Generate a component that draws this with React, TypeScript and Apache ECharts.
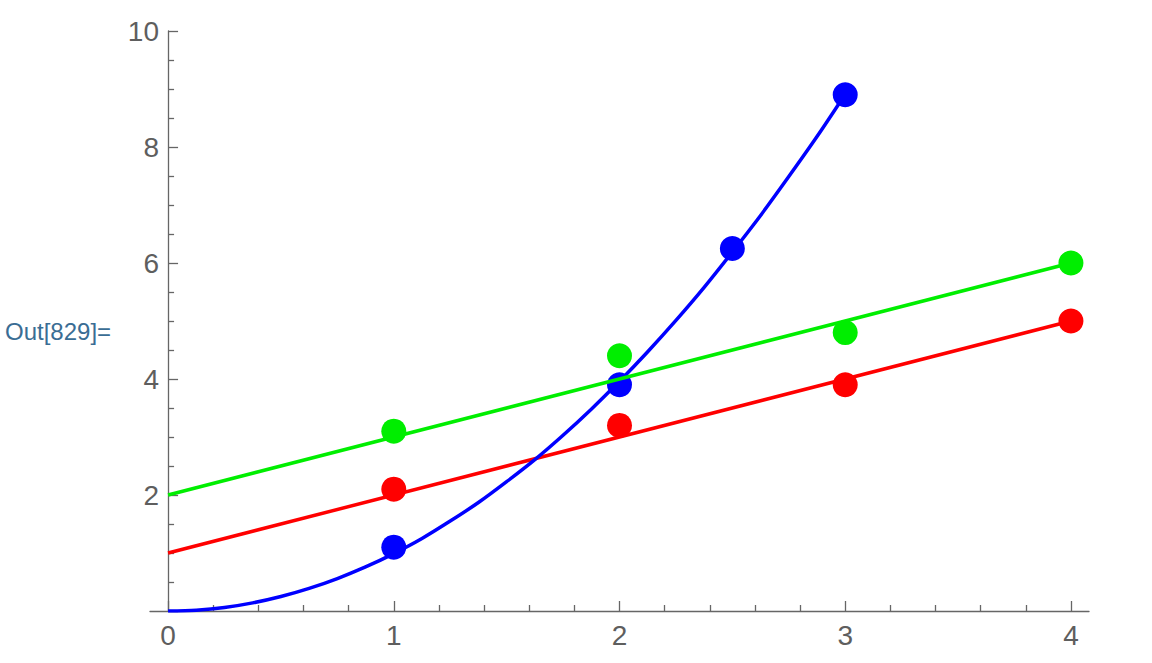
import React, { useEffect, useRef } from "react";
import * as echarts from "echarts";

const xTickValues = [0, 1, 2, 3, 4];
const xMinorTickValues = [
  0.2, 0.4, 0.6, 0.8, 1.2, 1.4, 1.6, 1.8, 2.2, 2.4, 2.6, 2.8, 3.2, 3.4, 3.6, 3.8,
];

const redPoints = [
  [1, 2.1],
  [2, 3.2],
  [3, 3.9],
  [4, 5.0],
];
const greenPoints = [
  [1, 3.1],
  [2, 4.4],
  [3, 4.8],
  [4, 6.0],
];
const bluePoints = [
  [1, 1.1],
  [2, 3.9],
  [2.5, 6.25],
  [3, 8.9],
];

const redLine = [
  [0, 1],
  [4, 5],
];
const greenLine = [
  [0, 2],
  [4, 6],
];
const blueCurve = [
  [0, 0],
  [0.125, 0.015],
  [0.25, 0.06],
  [0.375, 0.14],
  [0.5, 0.25],
  [0.625, 0.39],
  [0.75, 0.56],
  [0.875, 0.76],
  [1, 0.99],
  [1.125, 1.25],
  [1.25, 1.55],
  [1.375, 1.87],
  [1.5, 2.23],
  [1.625, 2.61],
  [1.75, 3.03],
  [1.875, 3.48],
  [2, 3.96],
  [2.125, 4.47],
  [2.25, 5.01],
  [2.375, 5.58],
  [2.5, 6.19],
  [2.625, 6.82],
  [2.75, 7.49],
  [2.875, 8.18],
  [3, 8.91],
];

const outLabel = "Out[829]=";

const FONT = "'Liberation Sans', Arial, sans-serif";
const AXIS_COLOR = "#666666";
const LABEL_COLOR = "#5e5e5e";
const RED = "#ff0000";
const GREEN = "#00ee00";
const BLUE = "#0000ff";

export default function App() {
  const ref = useRef<HTMLDivElement>(null);

  useEffect(() => {
    if (!ref.current) return;
    const chart = echarts.init(ref.current, null, { renderer: "svg" });

    const axisLineStyle = { color: AXIS_COLOR, width: 1.3 };

    chart.setOption({
      animation: false,
      backgroundColor: "#ffffff",
      grid: {
        left: 150,
        right: 63,
        top: 31,
        bottom: 52,
        containLabel: false,
        outerBoundsMode: "none",
      },
      graphic: [
        {
          type: "text",
          left: 5,
          top: 319,
          style: {
            text: outLabel,
            fill: "#3a6d94",
            font: `24px ${FONT}`,
          },
        },
      ],
      xAxis: [
        {
          type: "value",
          min: -0.08,
          max: 4.08,
          position: "bottom",
          axisLine: { show: true, onZero: false, lineStyle: axisLineStyle },
          axisTick: {
            show: true,
            inside: true,
            length: 10,
            customValues: xTickValues,
            lineStyle: axisLineStyle,
          },
          axisLabel: {
            show: true,
            customValues: xTickValues,
            margin: 10,
            fontSize: 28,
            fontFamily: FONT,
            color: LABEL_COLOR,
          },
          splitLine: { show: false },
        },
        {
          type: "value",
          min: -0.08,
          max: 4.08,
          position: "bottom",
          axisLine: { show: false, onZero: false },
          axisTick: {
            show: true,
            inside: true,
            length: 6,
            customValues: xMinorTickValues,
            lineStyle: axisLineStyle,
          },
          axisLabel: { show: false },
          splitLine: { show: false },
        },
      ],
      yAxis: {
        type: "value",
        min: 0,
        max: 10,
        interval: 2,
        axisLine: { show: true, onZero: true, lineStyle: axisLineStyle },
        axisTick: { show: true, inside: true, length: 10, lineStyle: axisLineStyle },
        minorTick: {
          show: true,
          splitNumber: 4,
          length: 6,
          lineStyle: axisLineStyle,
        },
        axisLabel: {
          showMinLabel: false,
          margin: -9,
          fontSize: 28,
          fontFamily: FONT,
          color: LABEL_COLOR,
        },
        splitLine: { show: false },
        minorSplitLine: { show: false },
      },
      series: [
        {
          type: "line",
          data: redLine,
          showSymbol: false,
          symbol: "none",
          lineStyle: { color: RED, width: 3.5 },
          itemStyle: { color: RED },
        },
        {
          type: "scatter",
          data: redPoints,
          symbolSize: 25,
          itemStyle: { color: RED, opacity: 1 },
        },
        {
          type: "line",
          data: blueCurve,
          smooth: 0.3,
          showSymbol: false,
          symbol: "none",
          lineStyle: { color: BLUE, width: 3.5 },
          itemStyle: { color: BLUE },
        },
        {
          type: "scatter",
          data: bluePoints,
          symbolSize: 25,
          itemStyle: { color: BLUE, opacity: 1 },
        },
        {
          type: "line",
          data: greenLine,
          showSymbol: false,
          symbol: "none",
          lineStyle: { color: GREEN, width: 3.5 },
          itemStyle: { color: GREEN },
        },
        {
          type: "scatter",
          data: greenPoints,
          symbolSize: 25,
          itemStyle: { color: GREEN, opacity: 1 },
        },
      ],
    });

    return () => {
      chart.dispose();
    };
  }, []);

  return (
    <div
      ref={ref}
      style={{
        position: "absolute",
        left: 0,
        top: 0,
        width: 1152,
        height: 663,
      }}
    />
  );
}
